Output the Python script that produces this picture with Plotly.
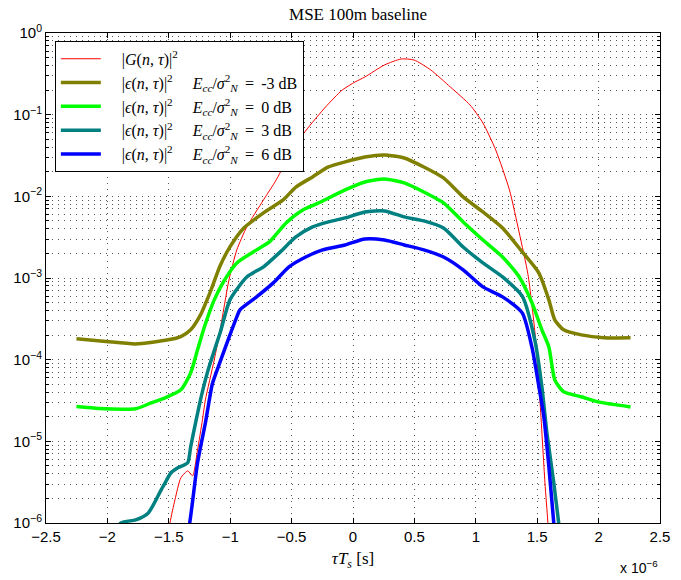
import plotly.graph_objects as go

# ---- data (x in microseconds, y linear) ----
g_x = [-1.56, -1.490, -1.450, -1.402, -1.346, -1.306, -1.266, -1.226, -1.202, -1.130, -1.082, -1.010,
       -0.946, -0.865, -0.729, -0.625, -0.489, -0.361, -0.224, -0.088, 0.016, 0.096, 0.256, 0.393,
       0.497, 0.633, 0.793, 0.954, 1.058, 1.162, 1.274, 1.354, 1.425, 1.482, 1.522, 1.563, 1.587, 1.62]
g_y = [1e-7, 1.0e-6, 1.92e-6, 3.57e-6, 4.35e-6, 3.78e-6, 7.87e-6, 1.83e-5, 3.22e-5, 9.95e-5, 2.32e-4, 9.48e-4,
       2.21e-3, 4.22e-3, 9.04e-3, 1.59e-2, 3.91e-2, 7.06e-2, 0.124, 0.200, 0.251, 0.289, 0.406, 0.481,
       0.467, 0.353, 0.218, 0.131, 7.91e-2, 3.70e-2, 1.20e-2, 3.56e-3, 1.1e-3, 2.13e-4, 3.22e-5, 3.11e-6, 1.0e-6, 1e-7]

m3_x = [-2.252, -2.011, -1.771, -1.506, -1.402, -1.322, -1.242, -1.162, -1.082, -1.002, -0.889, -0.729,
        -0.569, -0.465, -0.329, -0.200, -0.064, 0.096, 0.256, 0.417, 0.577, 0.737, 0.897, 1.058, 1.218,
        1.378, 1.514, 1.595, 1.643, 1.715, 1.859, 2.043, 2.260]
m3_y = [1.80e-4, 1.67e-4, 1.56e-4, 1.75e-4, 1.92e-4, 2.32e-4, 3.53e-4, 6.76e-4, 1.41e-3, 2.40e-3, 4.10e-3, 6.27e-3,
        9.04e-3, 1.30e-2, 1.73e-2, 2.29e-2, 2.64e-2, 3.03e-2, 3.21e-2, 2.95e-2, 2.29e-2, 1.68e-2, 9.84e-3, 6.44e-3, 4.10e-3,
        2.09e-3, 1.15e-3, 5.40e-4, 3.07e-4, 2.32e-4, 2.01e-4, 1.85e-4, 1.85e-4]

z0_x = [-2.252, -2.011, -1.771, -1.643, -1.530, -1.402, -1.322, -1.266, -1.210, -1.130, -1.050, -0.946,
        -0.785, -0.681, -0.545, -0.409, -0.280, -0.064, 0.096, 0.256, 0.417, 0.577, 0.737, 0.897, 1.058,
        1.218, 1.354, 1.458, 1.538, 1.595, 1.643, 1.715, 1.859, 1.995, 2.260]
z0_y = [2.67e-5, 2.50e-5, 2.50e-5, 2.96e-5, 3.41e-5, 4.27e-5, 6.89e-5, 1.32e-4, 2.52e-4, 5.40e-4, 9.22e-4, 1.53e-3,
        2.21e-3, 2.77e-3, 4.72e-3, 6.82e-3, 8.30e-3, 1.20e-2, 1.50e-2, 1.63e-2, 1.46e-2, 1.13e-2, 8.30e-3, 4.86e-3, 2.92e-3,
        1.81e-3, 1.03e-3, 4.95e-4, 2.32e-4, 1.43e-4, 5.66e-5, 4.04e-5, 3.51e-5, 3.04e-5, 2.64e-5]

p3_x = [-2.252, -2.05, -1.89, -1.77, -1.667, -1.562, -1.530, -1.482, -1.426, -1.346, -1.322, -1.282, -1.242,
        -1.202, -1.162, -1.082, -1.002, -0.865, -0.729, -0.601, -0.465, -0.329, -0.200, -0.064, 0.096,
        0.256, 0.417, 0.577, 0.737, 0.897, 1.058, 1.218, 1.378, 1.482, 1.538, 1.579, 1.635, 1.675, 1.72]
p3_y = [2e-7, 4e-7, 1.0e-6, 1.09e-6, 1.33e-6, 2.55e-6, 3.11e-6, 4.12e-6, 4.74e-6, 5.46e-6, 8.57e-6, 1.68e-5, 3.22e-5,
        5.66e-5, 9.14e-5, 2.13e-4, 5.40e-4, 1.03e-3, 1.37e-3, 2.03e-3, 3.18e-3, 4.22e-3, 4.86e-3, 5.44e-3, 6.44e-3,
        6.62e-3, 5.60e-3, 5.00e-3, 4.10e-3, 2.40e-3, 1.53e-3, 1.03e-3, 6.0e-4, 1.7e-4, 4.65e-5, 1.27e-5, 3.11e-6, 1.0e-6, 3e-7]

p6_x = [-1.42, -1.33, -1.266, -1.202, -1.146, -1.106, -1.026, -0.946, -0.921, -0.785, -0.649, -0.521, -0.385,
        -0.248, -0.064, 0.096, 0.256, 0.417, 0.577, 0.737, 0.897, 1.058, 1.218, 1.378, 1.458, 1.514, 1.554,
        1.595, 1.635, 1.68]
p6_y = [2e-7, 1.0e-6, 5.46e-6, 1.68e-5, 5.0e-5, 7.5e-5, 1.61e-4, 3.34e-4, 4.07e-4, 5.87e-4, 8.71e-4, 1.37e-3, 1.81e-3,
        2.21e-3, 2.54e-3, 3.01e-3, 2.92e-3, 2.54e-3, 2.21e-3, 1.81e-3, 1.26e-3, 7.78e-4, 5.87e-4, 3.74e-4, 1.4e-4, 4.65e-5, 2.00e-5,
        4.88e-6, 1.0e-6, 2e-7]

x_tickvals_us = [-2.5, -2, -1.5, -1, -0.5, 0, 0.5, 1, 1.5, 2, 2.5]
x_ticktext = ['\u22122.5', '\u22122', '\u22121.5', '\u22121', '\u22120.5', '0', '0.5', '1', '1.5', '2', '2.5']
y_tickvals = [1e-6, 1e-5, 1e-4, 1e-3, 1e-2, 1e-1, 1e0]
y_ticktext = ['10<sup>\u22126</sup>', '10<sup>\u22125</sup>', '10<sup>\u22124</sup>', '10<sup>\u22123</sup>',
              '10<sup>\u22122</sup>', '10<sup>\u22121</sup>', '10<sup>0</sup>']

eps = ('|<i>\u03f5</i>(<i>n</i>, <i>\u03c4</i>)|<sup>2</sup>\u2003 <i>E<sub>cc</sub></i>/<i>\u03c3</i>'
       '<sup>2</sup><sub><i>N</i></sub> \u2009=\u2009 ')
names = [
    '\u2003|<i>G</i>(<i>n</i>, <i>\u03c4</i>)|<sup>2</sup>',
    '\u2003' + eps + '-3 dB',
    '\u2003' + eps + '0 dB',
    '\u2003' + eps + '3 dB',
    '\u2003' + eps + '6 dB',
]

US = 1e-6
series = [(g_x, g_y, '#ff0000', 1), (m3_x, m3_y, '#808000', 3.5), (z0_x, z0_y, '#00ff00', 3.5),
          (p3_x, p3_y, '#008080', 3.5), (p6_x, p6_y, '#0000ff', 3.5)]

fig = go.Figure()
for (xs, ys, col, w), nm in zip(series, names):
    fig.add_trace(go.Scatter(x=[v * US for v in xs], y=ys, mode='lines', name=nm,
                             line=dict(color=col, width=w, shape='spline', smoothing=0.6)))

minor_y = [k * 10.0 ** e for e in range(-6, 0) for k in range(2, 10)]
serif = 'Liberation Serif, DejaVu Serif, serif'
sans = 'Liberation Sans, Arial, sans-serif'
GRID = dict(showgrid=True, gridcolor='#555', griddash='1px,5px', gridwidth=1)

fig.update_layout(
    width=681, height=580,
    margin=dict(l=46, r=11, t=33, b=57),
    paper_bgcolor='white', plot_bgcolor='white',
    title=dict(text='MSE 100m baseline', x=(46 + 312) / 681, xanchor='center', y=1 - 14 / 580, yanchor='middle',
               font=dict(family=serif, size=17, color='black')),
    showlegend=True,
    legend=dict(x=0.0144, y=0.984, xanchor='left', yanchor='top', bgcolor='white', bordercolor='black',
                borderwidth=1, font=dict(family=serif, size=16, color='black'), tracegroupgap=0,
                itemwidth=40),
    annotations=[dict(text='x 10<sup>\u22126</sup>', xref='paper', yref='paper', x=1.0, y=-0.112,
                      xanchor='right', yanchor='bottom', showarrow=False,
                      font=dict(family=sans, size=14, color='black'))],
)
fig.update_xaxes(
    range=[-2.5 * US, 2.5 * US], tickmode='array', tickvals=[v * US for v in x_tickvals_us], ticktext=x_ticktext,
    ticks='inside', ticklen=5, tickcolor='black', showline=True, linecolor='black', linewidth=1, mirror='allticks',
    zeroline=False, tickfont=dict(family=sans, size=15, color='black'),
    title=dict(text='<i>\u03c4T<sub>s</sub></i> [s]', font=dict(family=serif, size=17, color='black'), standoff=8),
    **GRID,
)
fig.update_yaxes(
    type='log', range=[-6, 0], tickmode='array', tickvals=y_tickvals, ticktext=y_ticktext,
    ticks='inside', ticklen=5, tickcolor='black', showline=True, linecolor='black', linewidth=1, mirror='allticks',
    zeroline=False, tickfont=dict(family=sans, size=15, color='black'),
    minor=dict(tickmode='array', tickvals=minor_y, ticks='inside', ticklen=3, tickcolor='black', **GRID),
    **GRID,
)

fig.write_html('out.html')
